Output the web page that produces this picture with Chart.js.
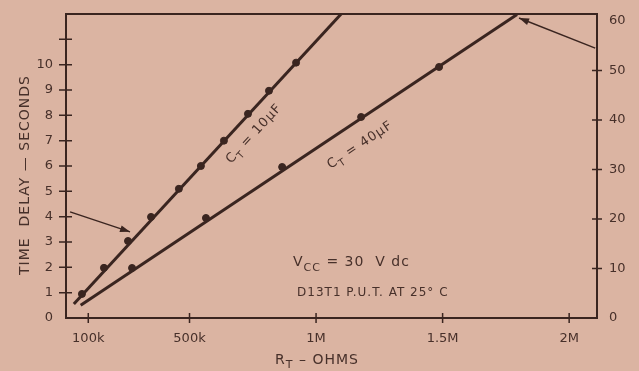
<!DOCTYPE html>
<html lang="en">
<head>
  <meta charset="UTF-8">
  <title>Time delay vs R_T</title>
  <script src="https://cdn.jsdelivr.net/npm/chart.js"></script>
  <style>
    html, body { margin: 0; padding: 0; background: #dbb4a2; }
    canvas { display: block; }
  </style>
</head>
<body>
  <canvas id="delayChart" width="639" height="371"></canvas>

  <script>
    // measured points, C_T = 10 uF (left axis, seconds)
    const rTen = [75000, 162000, 257000, 348000, 458000, 545000, 636000, 731000, 814000, 921000];
    const tTen = [0.95, 1.98, 3.04, 3.99, 5.1, 6.0, 7.0, 8.06, 8.97, 10.08];
    // drawn line through them
    const rTenFit = [43000, 1099000];
    const tTenFit = [0.55, 12];

    // measured points, C_T = 40 uF (right axis, seconds)
    const rForty = [273000, 565000, 866000, 1178000, 1486000];
    const tForty = [10.1, 20.2, 30.5, 40.6, 50.7];
    const rFortyFit = [70000, 1794000];
    const tFortyFit = [2.6, 61.3];

    // pointer arrows
    const rArrowTen = [28000, 265000];
    const tArrowTen = [4.19, 3.4];
    const rArrowForty = [2103000, 1802000];
    const tArrowForty = [54.5, 60.6];

    const xTicks = [100000, 500000, 1000000, 1500000, 2000000];
    const xTickLabels = ['100k', '500k', '1M', '1.5M', '2M'];
    const yTicks = [0, 1, 2, 3, 4, 5, 6, 7, 8, 9, 10, 11];
    const yTickLabels = ['0', '1', '2', '3', '4', '5', '6', '7', '8', '9', '10', ''];
    const y2Ticks = [0, 10, 20, 30, 40, 50, 60];

    const INK = '#3a2520';
    const TEXT = '#47302a';
    const BG = '#dbb4a2';
    const FONT = '"DejaVu Sans", sans-serif';

    const pts = (xs, ys) => xs.map((x, i) => ({ x: x, y: ys[i] }));

    function partsWidth(ctx, parts, size) {
      let w = 0;
      parts.forEach(([t, sub]) => {
        ctx.font = (sub ? Math.round(size * 0.8) : size) + 'px ' + FONT;
        w += ctx.measureText(t).width;
      });
      return w;
    }

    function drawParts(ctx, x, y, parts, size) {
      ctx.textAlign = 'left';
      ctx.textBaseline = 'middle';
      parts.forEach(([t, sub]) => {
        ctx.font = (sub ? Math.round(size * 0.8) : size) + 'px ' + FONT;
        ctx.fillText(t, x, sub ? y + size * 0.4 : y);
        x += ctx.measureText(t).width;
      });
    }

    const frame = {
      id: 'frame',
      beforeDraw(chart) {
        const ctx = chart.ctx;
        ctx.save();
        ctx.fillStyle = BG;
        ctx.fillRect(0, 0, chart.width, chart.height);
        ctx.restore();
      },
      beforeDatasetsDraw(chart) {
        const { ctx, chartArea: a, scales } = chart;
        ctx.save();
        ctx.strokeStyle = INK;
        ctx.lineWidth = 2;
        ctx.strokeRect(a.left, a.top, a.right - a.left, a.bottom - a.top);
        // crossing tick marks (none at the corners)
        ctx.lineWidth = 1.5;
        ctx.beginPath();
        yTicks.filter(v => v > 0).forEach(v => {
          const p = scales.y.getPixelForValue(v);
          ctx.moveTo(a.left - 7, p); ctx.lineTo(a.left + 6, p);
        });
        y2Ticks.filter(v => v > 0 && v < 60).forEach(v => {
          const p = scales.y2.getPixelForValue(v);
          ctx.moveTo(a.right - 5, p); ctx.lineTo(a.right + 5, p);
        });
        xTicks.forEach(v => {
          const p = scales.x.getPixelForValue(v);
          ctx.moveTo(p, a.bottom - 5); ctx.lineTo(p, a.bottom + 5);
        });
        ctx.stroke();
        ctx.restore();
      },
      afterDatasetsDraw(chart) {
        const { ctx, scales } = chart;
        const x = scales.x, y = scales.y;
        ctx.save();
        ctx.fillStyle = INK;

        // arrow heads
        [4, 5].forEach(i => {
          const d = chart.getDatasetMeta(i).data;
          const p0 = d[d.length - 2], p1 = d[d.length - 1];
          const ang = Math.atan2(p1.y - p0.y, p1.x - p0.x);
          ctx.save();
          ctx.translate(p1.x, p1.y);
          ctx.rotate(ang);
          ctx.beginPath();
          ctx.moveTo(0, 0);
          ctx.lineTo(-10, -3.5);
          ctx.lineTo(-10, 3.5);
          ctx.closePath();
          ctx.fill();
          ctx.restore();
        });

        ctx.fillStyle = TEXT;
        ctx.letterSpacing = '1px';
        // curve labels, rotated along their lines
        const labelOn = (meta, cx, cy, yScale, parts) => {
          const d = chart.getDatasetMeta(meta).data;
          const ang = Math.atan2(d[1].y - d[0].y, d[1].x - d[0].x);
          const px = x.getPixelForValue(cx), py = yScale.getPixelForValue(cy);
          const w = partsWidth(ctx, parts, 13);
          ctx.save();
          ctx.translate(px, py);
          ctx.rotate(ang);
          drawParts(ctx, -w / 2, 0, parts, 13);
          ctx.restore();
        };
        labelOn(0, 755000, 7.27, y, [['C', false], ['T', true], [' = 10\u00b5F', false]]);
        labelOn(2, 1174000, 34.9, scales.y2, [['C', false], ['T', true], [' = 40\u00b5F', false]]);

        // conditions
        drawParts(ctx, x.getPixelForValue(909000), y.getPixelForValue(2.2),
          [['V', false], ['CC', true], [' = 30  V dc', false]], 14);
        drawParts(ctx, x.getPixelForValue(925000), y.getPixelForValue(0.99),
          [['D13T1 P.U.T. AT 25\u00b0 C', false]], 12);

        // axis titles
        const xt = [['R', false], ['T', true], [' \u2013 OHMS', false]];
        const xw = partsWidth(ctx, xt, 14);
        drawParts(ctx, 317 - xw / 2, 360, xt, 14);

        ctx.save();
        ctx.translate(25, 175);
        ctx.rotate(-Math.PI / 2);
        ctx.font = '14px ' + FONT;
        ctx.textAlign = 'center';
        ctx.textBaseline = 'middle';
        ctx.fillText('TIME  DELAY \u2014 SECONDS', 0, 0);
        ctx.restore();

        ctx.restore();
      }
    };

    const tickFont = { family: FONT, size: 13 };

    new Chart(document.getElementById('delayChart'), {
      type: 'scatter',
      data: {
        datasets: [
          { data: pts(rTenFit, tTenFit), yAxisID: 'y', showLine: true, borderColor: INK, borderWidth: 3, pointRadius: 0 },
          { data: pts(rTen, tTen), yAxisID: 'y', pointRadius: 3.5, backgroundColor: INK, borderColor: INK },
          { data: pts(rFortyFit, tFortyFit), yAxisID: 'y2', showLine: true, borderColor: INK, borderWidth: 3, pointRadius: 0 },
          { data: pts(rForty, tForty), yAxisID: 'y2', pointRadius: 3.5, backgroundColor: INK, borderColor: INK },
          { data: pts(rArrowTen, tArrowTen), yAxisID: 'y', showLine: true, borderColor: INK, borderWidth: 1.5, pointRadius: 0 },
          { data: pts(rArrowForty, tArrowForty), yAxisID: 'y2', showLine: true, borderColor: INK, borderWidth: 1.5, pointRadius: 0, clip: false }
        ]
      },
      options: {
        responsive: false,
        animation: false,
        layout: { padding: { top: 14, left: 0, right: 0, bottom: 0 } },
        plugins: { legend: { display: false }, tooltip: { enabled: false } },
        scales: {
          x: {
            type: 'linear',
            min: 12000,
            max: 2110000,
            grid: { display: false },
            border: { display: false },
            afterBuildTicks: s => { s.ticks = xTicks.map(v => ({ value: v })); },
            afterFit: s => { s.height = 53; },
            ticks: {
              color: TEXT, font: tickFont, padding: 5, autoSkip: false, maxRotation: 0,
              callback: v => xTickLabels[xTicks.indexOf(v)]
            }
          },
          y: {
            position: 'left',
            min: 0,
            max: 12,
            grid: { display: false },
            border: { display: false },
            afterBuildTicks: s => { s.ticks = yTicks.map(v => ({ value: v })); },
            afterFit: s => { s.width = 66; },
            ticks: {
              color: TEXT, font: tickFont, padding: 5, autoSkip: false,
              callback: v => yTickLabels[yTicks.indexOf(v)]
            }
          },
          y2: {
            position: 'right',
            min: 0,
            max: 61.4,
            grid: { display: false },
            border: { display: false },
            afterBuildTicks: s => { s.ticks = y2Ticks.map(v => ({ value: v })); },
            afterFit: s => { s.width = 42; },
            ticks: { color: TEXT, font: tickFont, padding: 4, autoSkip: false }
          }
        }
      },
      plugins: [frame]
    });
  </script>
</body>
</html>
